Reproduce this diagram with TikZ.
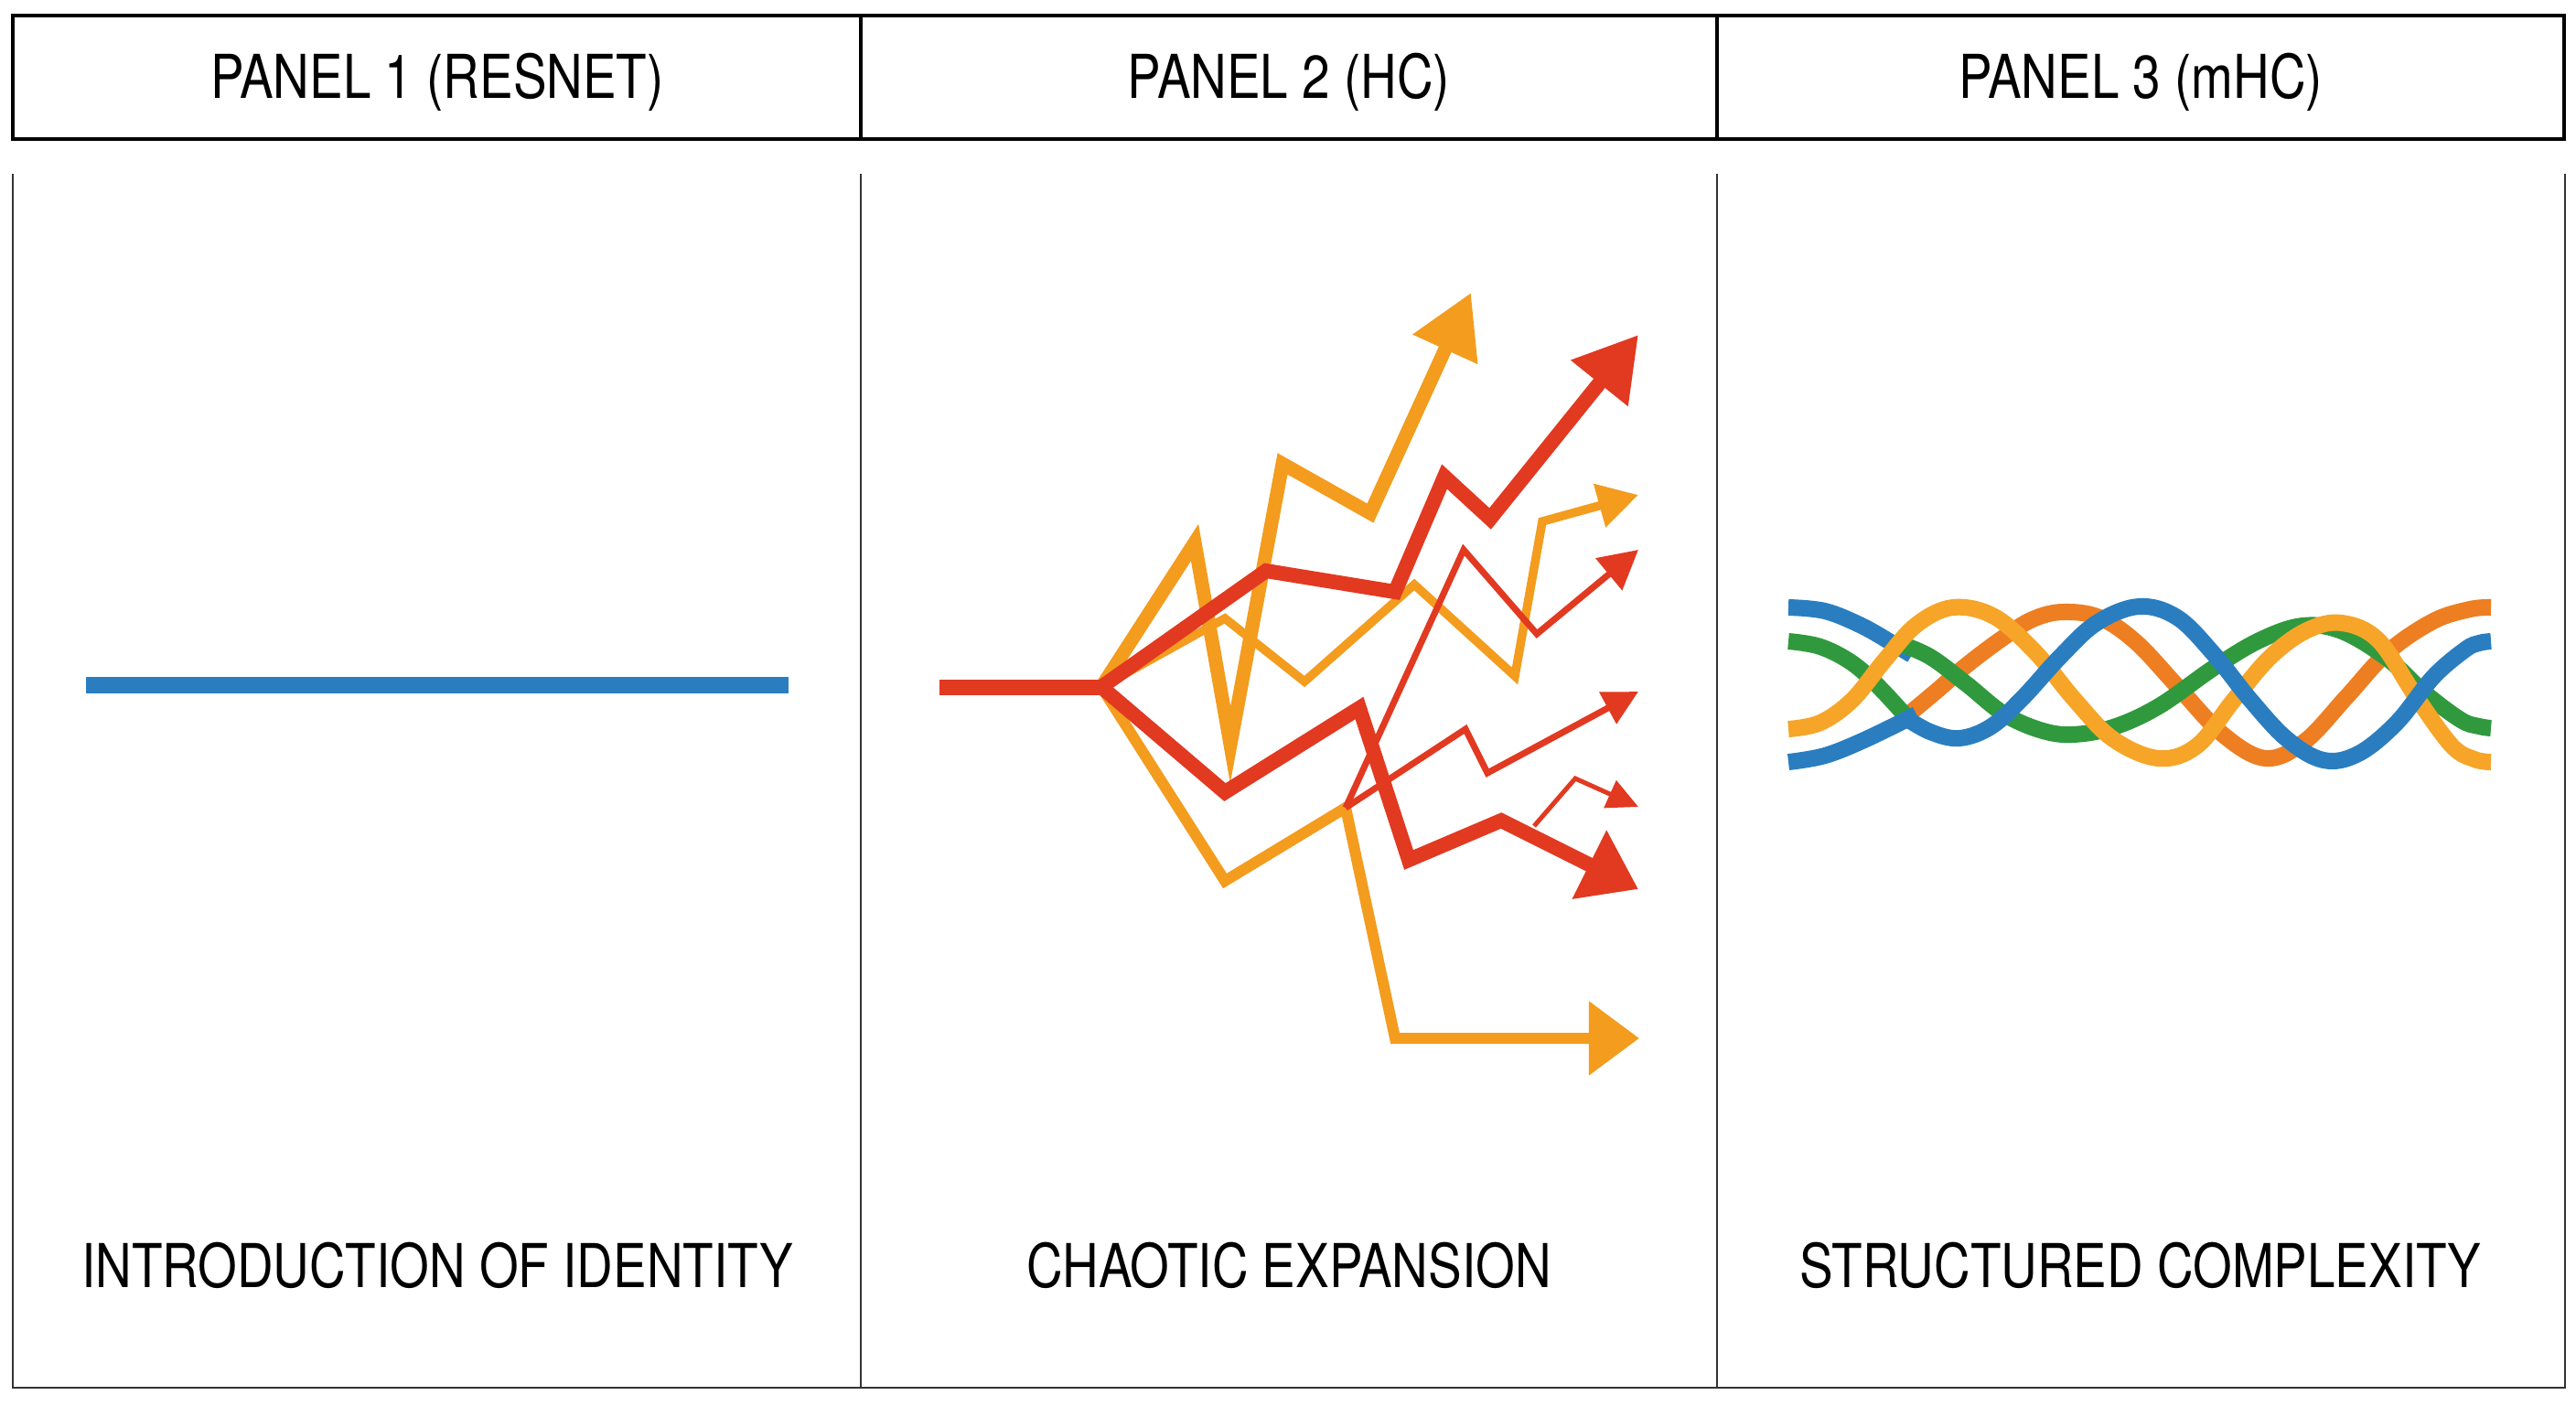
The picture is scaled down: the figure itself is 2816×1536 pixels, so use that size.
\documentclass[tikz,border=0pt]{standalone}
\usepackage{fontspec}
\setmainfont{TeX Gyre Heros}[FakeStretch=0.83]
\usetikzlibrary{arrows.meta}
\definecolor{redc}{RGB}{226,57,33}
\definecolor{orangec}{RGB}{243,156,30}
\definecolor{bluec}{RGB}{42,126,192}
\definecolor{greenc}{RGB}{48,153,62}
\definecolor{odc}{RGB}{238,126,34}
\definecolor{olc}{RGB}{246,165,40}
\begin{document}
\begin{tikzpicture}[x=0.01cm,y=-0.01cm,
  hdr/.style={draw=black, line width=0.045cm},
  pline/.style={draw=black!80, line width=0.028cm},
  lbl/.style={anchor=base, inner sep=0pt, font=\fontsize{18.8pt}{20pt}\selectfont},
  zig/.style={line join=miter, miter limit=20},
  strand/.style={line width=0.18cm, line cap=butt}]
\useasboundingbox (0,0) rectangle (2816,1536);
\fill[white] (0,0) rectangle (2816,1536);
% header
\draw[hdr] (14,17) rectangle (2803,152);
\draw[hdr] (941,17) -- (941,152);
\draw[hdr] (1877,17) -- (1877,152);
\node[lbl] (t1) at (478,107) {PANEL 1 (RESNET)};
\node[lbl] (t2) at (1409,107) {PANEL 2 (HC)};
\node[lbl] (t3) at (2340,107) {PANEL 3 (mHC)};
% lower panels
\draw[pline] (14,190) -- (14,1517) -- (2804,1517) -- (2804,190);
\draw[pline] (941,190) -- (941,1517);
\draw[pline] (1877,190) -- (1877,1517);
\node[lbl] (b1) at (478,1407) {INTRODUCTION OF IDENTITY};
\node[lbl] (b2) at (1409,1407) {CHAOTIC EXPANSION};
\node[lbl] (b3) at (2340,1407) {STRUCTURED COMPLEXITY};
% panel 1
\coordinate (p1s) at (94,749);
\coordinate (p1e) at (862,749);
\draw[bluec, line width=0.18cm] (p1s) -- (p1e);
% panel 2
\coordinate (st) at (1027,751);
\coordinate (br) at (1204,751);
\coordinate (ej) at (1471,883);
\coordinate (dj) at (1677,903);
% E orange medium
\draw[zig, orangec, line width=0.12cm, -{Triangle[length=0.55cm,width=0.78cm]}]
  (br) -- (1339,963) -- (ej) -- (1525,1135) -- (1792,1135);
% C orange thin
\draw[zig, orangec, line width=0.095cm, -{Triangle[length=0.44cm,width=0.47cm]}]
  (br) -- (1339,676) -- (1426,745) -- (1546,639) -- (1656,739) -- (1686,570) -- (1791,541);
% F thin red
\draw[zig, redc, line width=0.07cm, -{Triangle[length=0.42cm,width=0.44cm]}]
  (ej) -- (1600,601) -- (1680,693) -- (1791,601);
% G thin red
\draw[zig, redc, line width=0.07cm, -{Triangle[length=0.38cm,width=0.38cm]}]
  (ej) -- (1602,797) -- (1626,845) -- (1791,756);
% A orange thick
\draw[zig, orangec, line width=0.15cm, -{Triangle[length=0.68cm,width=0.74cm]}]
  (br) -- (1306,593) -- (1345,814) -- (1402,507) -- (1498,561) -- (1608,320);
% D red thick
\draw[zig, redc, line width=0.16cm, -{Triangle[length=0.60cm,width=0.80cm]}]
  (br) -- (1339,866) -- (1486,774) -- (1540,940) -- (1641,897) -- (1791,972);
% H very thin red
\draw[zig, redc, line width=0.05cm, -{Triangle[length=0.34cm,width=0.32cm]}]
  (dj) -- (1722,851) -- (1791,882);
% B red thick
\draw[zig, redc, line width=0.16cm, -{Triangle[length=0.68cm,width=0.76cm]}]
  (br) -- (1384,624) -- (1525,647) -- (1579,521) -- (1629,567) -- (1791,366);
% trunk
\draw[zig, redc, line width=0.17cm] (st) -- (br);
% panel 3
\draw[strand, odc] plot[smooth, tension=0.6] coordinates {(2085,782) (2115,757) (2150,727) (2190,697) (2222,677) (2255,669) (2295,675) (2335,702) (2380,750) (2430,803) (2477,829) (2520,810) (2565,762) (2610,713) (2660,679) (2700,666) (2723,664)};
\draw[strand, bluec] plot[smooth, tension=0.6] coordinates {(1955,664) (1995,668) (2035,684) (2070,704) (2090,716)};
\draw[strand, greenc] plot[smooth, tension=0.6] coordinates {(1955,701) (1990,707) (2025,725) (2055,752) (2088,788)};
\draw[strand, greenc] plot[smooth, tension=0.6] coordinates {(2075,703) (2110,718) (2150,748) (2190,780) (2230,798) (2265,803) (2310,795) (2360,772) (2420,730) (2470,700) (2517,684) (2560,690) (2610,720) (2650,757) (2690,787) (2710,794) (2723,796)};
\draw[strand, olc] plot[smooth, tension=0.6] coordinates {(1955,797) (1990,790) (2025,765) (2060,722) (2095,683) (2135,664) (2180,674) (2225,713) (2268,765) (2310,808) (2360,829) (2402,815) (2442,765) (2482,718) (2522,689) (2560,681) (2600,700) (2640,760) (2680,815) (2705,830) (2723,833)};
\draw[strand, bluec] plot[smooth, tension=0.6] coordinates {(1955,833) (1995,826) (2040,808) (2095,781)};
\draw[strand, bluec] plot[smooth, tension=0.6] coordinates {(2082,784) (2110,800) (2142,807) (2177,794) (2212,762) (2252,718) (2292,681) (2338,663) (2380,675) (2420,715) (2460,765) (2500,808) (2540,831) (2578,824) (2620,790) (2660,740) (2695,710) (2710,703) (2723,701)};
\end{tikzpicture}
\end{document}
